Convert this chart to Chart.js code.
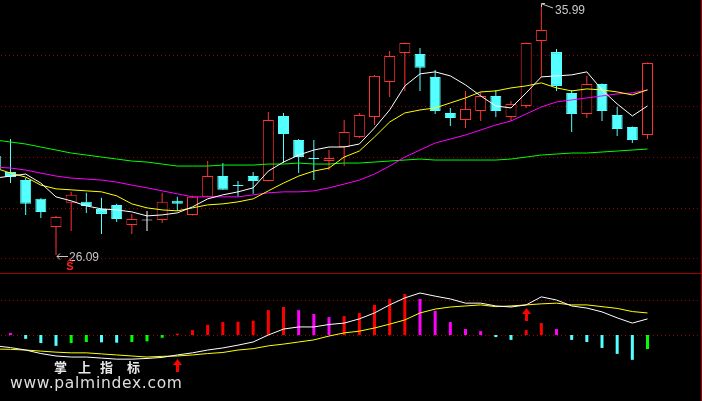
<!DOCTYPE html>
<html>
<head>
<meta charset="utf-8">
<script src="https://cdn.jsdelivr.net/npm/chart.js@4.4.1/dist/chart.umd.min.js"></script>
<style>
html,body{margin:0;padding:0;background:#000;}
#wrap{position:relative;width:702px;height:401px;background:#000;overflow:hidden;}
canvas{position:absolute;left:0;display:block;}
#cTop{top:0;}
#cBot{top:274px;}
#sep{position:absolute;left:0;top:273px;width:702px;height:1px;background:#a80000;}
#rb{position:absolute;left:701px;top:0;width:1px;height:401px;background:#a80000;}
.wm{position:absolute;top:360px;color:#e8e8e8;font-family:"Noto Sans CJK SC",sans-serif;font-weight:bold;font-size:13px;line-height:13px;}
#site{position:absolute;left:10px;top:374px;font-family:"DejaVu Sans",sans-serif;font-size:15.5px;line-height:18px;letter-spacing:0.7px;color:#dedede;white-space:nowrap;}
</style>
</head>
<body>
<div id="wrap">
  <canvas id="cTop" width="702" height="273"></canvas>
  <div id="sep"></div>
  <canvas id="cBot" width="702" height="127"></canvas>
  <div id="rb"></div>
  <div class="wm" style="left:54px">掌</div>
  <div class="wm" style="left:78px">上</div>
  <div class="wm" style="left:100px">指</div>
  <div class="wm" style="left:127px">标</div>
  <div id="site">www.palmindex.com</div>
</div>
<script>
// ---- data (index of first entry = -1, a partly hidden candle at the left edge) ----
const firstIndex = -1;
const opens  = [30.04,29.40,29.08,28.33,27.21,28.17,28.21,27.93,28.09,27.29,27.49,27.49,28.25,27.69,28.41,29.24,28.88,29.24,29.04,31.64,30.68,29.96,29.84,30.40,30.80,31.60,33.00,34.15,34.11,33.20,31.76,31.48,31.84,32.44,31.60,32.04,34.63,34.19,32.56,31.72,32.92,31.68,31.20,30.88];
const highs  = [30.28,30.72,29.16,28.35,27.65,28.61,28.57,28.37,28.13,27.73,27.85,28.57,28.41,28.45,29.84,29.76,29.04,29.40,31.80,31.76,30.72,30.68,30.28,31.48,31.76,33.28,34.23,34.57,34.35,33.48,31.96,32.64,32.60,32.68,32.24,34.57,35.99,34.31,32.68,33.24,32.94,32.00,31.22,33.77];
const lows   = [29.40,28.96,27.69,27.57,26.09,27.05,27.77,26.93,27.41,26.93,27.05,27.37,27.85,27.67,28.40,28.69,28.41,28.53,29.02,29.76,29.36,29.08,29.48,29.64,30.76,31.28,32.40,32.64,32.64,31.72,31.24,31.16,31.44,31.60,31.44,31.96,33.20,32.64,31.00,31.56,31.44,30.84,30.56,30.72];
const closes = [29.52,29.20,28.13,27.81,27.61,28.49,28.05,27.73,27.53,27.53,27.49,28.21,28.13,28.41,29.24,28.69,28.85,29.04,31.48,30.92,30.00,29.92,29.96,31.00,31.68,33.24,34.03,34.55,33.56,31.84,31.56,31.92,32.44,31.84,32.12,34.55,35.07,32.84,31.72,32.92,31.84,31.12,30.68,33.75];
const ma5  = [29.16,29.24,29.32,28.96,28.41,28.25,28.05,27.93,27.89,27.81,27.65,27.69,27.77,28.01,28.33,28.49,28.61,28.77,29.44,29.80,30.08,30.28,30.40,30.40,30.52,31.16,31.88,32.84,33.32,33.40,33.24,32.88,32.44,32.04,31.96,32.56,33.20,33.24,33.28,33.40,32.68,32.12,31.64,32.04];
const ma10 = [29.56,29.36,29.20,28.88,28.73,28.69,28.65,28.61,28.45,28.13,27.97,27.89,27.85,27.97,28.09,28.13,28.21,28.33,28.65,28.96,29.24,29.44,29.56,30.00,30.24,30.80,31.40,31.76,31.88,31.96,32.16,32.36,32.60,32.64,32.76,32.84,32.96,32.76,32.64,32.72,32.68,32.60,32.48,32.68];
const ma20 = [29.60,29.56,29.48,29.36,29.24,29.16,29.12,29.08,29.00,28.88,28.77,28.65,28.53,28.41,28.41,28.41,28.41,28.49,28.57,28.61,28.61,28.65,28.77,28.92,29.08,29.32,29.64,30.00,30.28,30.56,30.72,30.88,31.08,31.28,31.44,31.72,32.00,32.20,32.28,32.36,32.44,32.52,32.56,32.68];
const ma60 = [30.68,30.60,30.52,30.40,30.28,30.16,30.08,30.00,29.92,29.84,29.80,29.72,29.64,29.64,29.64,29.68,29.68,29.68,29.72,29.72,29.76,29.72,29.72,29.76,29.76,29.80,29.84,29.88,29.92,29.88,29.88,29.88,29.88,29.88,29.92,30.00,30.08,30.12,30.16,30.16,30.20,30.24,30.28,30.32];
const macdBar = [0.09,0.06,-0.11,-0.23,-0.31,-0.23,-0.20,-0.21,-0.22,-0.20,-0.18,-0.08,0.04,0.14,0.29,0.37,0.38,0.41,0.71,0.80,0.71,0.60,0.51,0.54,0.63,0.86,1.03,1.17,1.03,0.69,0.37,0.17,0.11,-0.06,-0.14,0.14,0.34,0.17,-0.14,-0.20,-0.37,-0.54,-0.71,-0.40];
const dif = [-0.31,-0.36,-0.43,-0.53,-0.60,-0.63,-0.63,-0.66,-0.69,-0.69,-0.67,-0.64,-0.57,-0.51,-0.43,-0.37,-0.29,-0.20,0.00,0.17,0.23,0.23,0.30,0.34,0.46,0.63,0.86,1.06,1.20,1.11,1.03,0.91,0.91,0.83,0.80,0.86,1.09,1.00,0.83,0.77,0.66,0.49,0.34,0.46];
const dea = [-0.40,-0.41,-0.43,-0.46,-0.49,-0.51,-0.51,-0.54,-0.57,-0.60,-0.63,-0.61,-0.60,-0.57,-0.53,-0.50,-0.43,-0.39,-0.31,-0.26,-0.20,-0.14,-0.03,0.06,0.11,0.20,0.31,0.43,0.63,0.74,0.80,0.83,0.86,0.81,0.83,0.86,0.89,0.91,0.86,0.86,0.81,0.76,0.67,0.63];
const priceGrid = [34.07,32.04,30.00,27.97,25.97];
const macdGrid = [1.00,0.00];
const buySignals = [11,34];
const sellSignals = [4];

// ---- styling ----
const UP = '#ff3232', DOWN = '#54ffff', FLAT = '#ffffff';
const X_MIN = -0.6923, X_MAX = 45.593;
const xOf = k => k + firstIndex;
const candleColor = k => closes[k] > opens[k] ? UP : (closes[k] < opens[k] ? DOWN : FLAT);
const bodyFill = k => closes[k] > opens[k] ? '#000000' : candleColor(k);
const bodyRange = k => {
  const o = opens[k], c = closes[k];
  if (Math.abs(o - c) < 0.04) { const m = (o + c) / 2; return [m - 0.02, m + 0.02]; }
  return [o, c];
};
const macdColor = k => {
  const v = macdBar[k], p = k > 0 ? macdBar[k - 1] : v;
  if (v >= 0) return v >= p ? '#ff0000' : '#ff00ff';
  return v <= p ? '#54ffff' : '#00ff00';
};
const series = arr => arr.map((v, k) => ({x: xOf(k), y: v}));

const dotGrid = {
  id: 'dotgrid',
  beforeDatasetsDraw(chart, args, opts) {
    const {ctx, chartArea, scales} = chart;
    ctx.save();
    ctx.strokeStyle = '#a00000';
    ctx.lineWidth = 1;
    ctx.setLineDash([1, 3]);
    opts.values.forEach(v => {
      const py = Math.round(scales.y.getPixelForValue(v)) + 0.5;
      ctx.beginPath();
      ctx.moveTo(chartArea.left + 1, py);
      ctx.lineTo(chartArea.right, py);
      ctx.stroke();
    });
    ctx.restore();
  }
};

const marks = {
  id: 'marks',
  afterDatasetsDraw(chart) {
    const {ctx, chartArea, scales: {x, y}} = chart;
    ctx.save();
    // lowest low
    let kl = 0, kh = 0;
    lows.forEach((v, k) => { if (v < lows[kl]) kl = k; });
    highs.forEach((v, k) => { if (v > highs[kh]) kh = k; });
    ctx.strokeStyle = '#c8c8c8';
    ctx.fillStyle = '#c8c8c8';
    ctx.lineWidth = 1;
    ctx.font = '12px "Liberation Sans", Arial, sans-serif';
    ctx.textBaseline = 'middle';
    let px = Math.round(x.getPixelForValue(xOf(kl))), py = Math.round(y.getPixelForValue(lows[kl]));
    ctx.beginPath();
    ctx.moveTo(px + 1, py + 1.5); ctx.lineTo(px + 12, py + 1.5);
    ctx.moveTo(px + 4, py - 1.5); ctx.lineTo(px + 1, py + 1.5); ctx.lineTo(px + 4, py + 4.5);
    ctx.stroke();
    ctx.fillText(lows[kl].toFixed(2), px + 13, py + 2.5);
    // highest high
    px = Math.round(x.getPixelForValue(xOf(kh))); py = Math.round(y.getPixelForValue(highs[kh]));
    ctx.beginPath();
    ctx.moveTo(px + 0.5, py); ctx.lineTo(px + 0.5, py - 3.5); ctx.lineTo(px + 4, py - 3.5);
    ctx.moveTo(px + 1, py - 3); ctx.lineTo(px + 12, py + 1);
    ctx.stroke();
    ctx.fillText(highs[kh].toFixed(2), px + 14, py + 3.5);
    // sell markers
    ctx.fillStyle = '#ff2020';
    ctx.strokeStyle = '#ff2020';
    ctx.font = 'bold 11px "Liberation Sans", Arial, sans-serif';
    ctx.textAlign = 'center';
    sellSignals.forEach(i => {
      const sx = Math.round(x.getPixelForValue(i)) - 1;
      const sy = chartArea.bottom - 6;
      ctx.fillText('S', sx, sy);
      ctx.beginPath();
      ctx.moveTo(sx - 2.5, sy - 5); ctx.lineTo(sx, sy - 8); ctx.lineTo(sx + 2.5, sy - 5);
      ctx.stroke();
    });
    ctx.restore();
  }
};

const arrows = {
  id: 'arrows',
  afterDatasetsDraw(chart) {
    const {ctx, scales: {x, y}} = chart;
    ctx.save();
    ctx.fillStyle = '#ff0000';
    buySignals.forEach(i => {
      const k = i - firstIndex;
      const ax = Math.round(x.getPixelForValue(i)) + 0.5;
      const tip = Math.round(Math.max(y.getPixelForValue(dif[k]), y.getPixelForValue(dea[k]))) + 3;
      ctx.beginPath();
      ctx.moveTo(ax, tip); ctx.lineTo(ax + 4.5, tip + 6); ctx.lineTo(ax - 4.5, tip + 6); ctx.closePath();
      ctx.fill();
      ctx.fillRect(ax - 1.5, tip + 6, 3, 7);
    });
    ctx.restore();
  }
};

const base = {
  responsive: false, animation: false, devicePixelRatio: 1, events: [],
  layout: {padding: 0},
};
const xScale = {type: 'linear', min: X_MIN, max: X_MAX, offset: false, display: false};
const lineDs = (arr, color) => ({type: 'line', data: series(arr), borderColor: color, borderWidth: 1,
  pointRadius: 0, tension: 0, order: 1});

new Chart(document.getElementById('cTop'), {
  type: 'bar',
  data: {datasets: [
    lineDs(ma5, '#ffffff'),
    lineDs(ma10, '#ffff00'),
    lineDs(ma20, '#ff00ff'),
    lineDs(ma60, '#00ff00'),
    {type: 'bar', data: opens.map((o, k) => ({x: xOf(k), y: bodyRange(k)})),
     backgroundColor: opens.map((o, k) => bodyFill(k)), borderColor: opens.map((o, k) => candleColor(k)),
     borderWidth: 1, borderSkipped: false, barThickness: 11, inflateAmount: 0, grouped: false, order: 2},
    {type: 'bar', data: lows.map((l, k) => ({x: xOf(k), y: [l, highs[k]]})),
     backgroundColor: lows.map((l, k) => candleColor(k)), borderWidth: 0, barThickness: 1,
     inflateAmount: 0, grouped: false, order: 3}
  ]},
  options: Object.assign({}, base, {
    plugins: {legend: {display: false}, tooltip: {enabled: false}, dotgrid: {values: priceGrid}},
    scales: {x: xScale, y: {type: 'linear', min: 25.37, max: 36.27, display: false}}
  }),
  plugins: [dotGrid, marks]
});

new Chart(document.getElementById('cBot'), {
  type: 'bar',
  data: {datasets: [
    lineDs(dif, '#ffffff'),
    lineDs(dea, '#ffff00'),
    {type: 'bar', data: series(macdBar), backgroundColor: macdBar.map((v, k) => macdColor(k)),
     borderWidth: 0, barThickness: 3, inflateAmount: 0, grouped: false, order: 2}
  ]},
  options: Object.assign({}, base, {
    plugins: {legend: {display: false}, tooltip: {enabled: false}, dotgrid: {values: macdGrid}},
    scales: {x: xScale, y: {type: 'linear', min: -1.886, max: 1.743, display: false}}
  }),
  plugins: [dotGrid, arrows]
});
</script>
</body>
</html>
